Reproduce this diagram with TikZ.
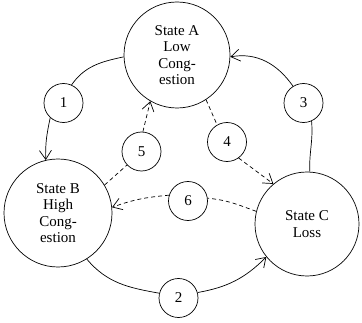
\documentclass[tikz,border=0pt]{standalone}
\usepackage{fontspec}
\setmainfont{Liberation Serif}
\usetikzlibrary{arrows.meta}
\begin{document}
\begin{tikzpicture}[x=1pt,y=1pt,
  state/.style={circle,draw,line width=0.7pt,minimum size=106pt,inner sep=0pt,
    align=center,font=\fontsize{15}{16.5}\selectfont},
  lbl/.style={circle,draw,line width=0.7pt,minimum size=39pt,inner sep=0pt,
    font=\fontsize{15}{16.5}\selectfont},
  flow/.style={line width=0.7pt},
  trans/.style={flow,-{Straight Barb[length=9pt,width=12pt]}},
  dashedflow/.style={dash pattern=on 4pt off 3pt}
]
\useasboundingbox (0,0) rectangle (362,322);

% states
\node[state] (A) at (177,267) {State A\\Low\\Cong-\\estion};
\node[state, minimum size=108pt] (B) at (58,109) {State B\\High\\Cong-\\estion};
\node[state, minimum size=104pt] (C) at (307,98) {State C\\Loss};

% transition labels
\node[lbl] (l1) at (63.5,219) {1};
\node[lbl] (l2) at (178.5,24) {2};
\node[lbl] (l3) at (303.5,219) {3};
\node[lbl] (l4) at (227,180) {4};
\node[lbl] (l5) at (141.5,170.5) {5};
\node[lbl] (l6) at (188,121) {6};

% transition 1: A -> B
\draw[flow] (A.182) to[out=192,in=55] (l1.66);
\draw[trans] (l1.228) to[out=258,in=92] (B.103);

% transition 2: B -> C
\draw[flow] (B.302) to[out=-50,in=170] (l2.166);
\draw[trans] (l2.16) to[out=10,in=225] (C.219);

% transition 3: C -> A
\draw[flow] (C.87) to[out=92,in=275] (l3.294);
\draw[trans] (l3.122) to[out=125,in=10] (A.358);

% transition 4: A -> C
\draw[flow,dashedflow] (A.303) -- (l4.120);
\draw[trans,dashedflow] (l4.306) -- (C.130);

% transition 5: B -> A
\draw[flow,dashedflow] (B.31) -- (l5.223);
\draw[trans,dashedflow] (l5.86) -- (A.240);

% transition 6: C -> B
\draw[flow,dashedflow] (C.166) to[out=160,in=-5] (l6.8);
\draw[trans,dashedflow] (l6.163) to[out=185,in=20] (B.6);
\end{tikzpicture}
\end{document}
